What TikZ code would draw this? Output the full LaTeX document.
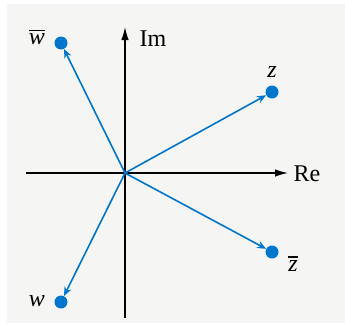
\documentclass[tikz,border=0pt]{standalone}
\usepackage{fontspec}
\setmainfont{Liberation Serif}
\usetikzlibrary{arrows.meta}
\definecolor{bg}{RGB}{245,245,244}
\definecolor{vec}{RGB}{0,118,204}
\newcommand\myconj[2]{\vbox{\hrule height #2\kern 2.5pt\hbox{\itshape #1\/}}}
\begin{document}
\begin{tikzpicture}[x=1pt,y=-1pt,
  dot/.style={circle,fill=vec,inner sep=0pt,minimum size=13pt},
  vecline/.style={draw=vec,line width=1.6pt,-{Stealth[length=9pt,width=7.5pt]}},
  axis/.style={draw=black,line width=1.3pt,-{Latex[length=13pt,width=7.5pt]}},
  lab/.style={font=\fontsize{24}{28}\selectfont,inner sep=0pt}]
\useasboundingbox (0,0) rectangle (345,324);
\fill[bg] (7,4) rectangle (345,323);
\coordinate (o) at (125,173);
\coordinate (xl) at (26,173);
\coordinate (xr) at (288,173);
\coordinate (yb) at (125,318);
\coordinate (yt) at (125,27);
\draw[axis] (xl) -- (xr);
\draw[axis] (yb) -- (yt);
\node[lab] (re) at (307,174) {Re};
\node[lab] (im) at (153,39) {Im};
\node[dot] (z) at (272,92) {};
\node[dot] (zb) at (272,252) {};
\node[dot] (wb) at (61,43) {};
\node[dot] (w) at (61,302) {};
\draw[vecline] (o) -- (z);
\draw[vecline] (o) -- (zb);
\draw[vecline] (o) -- (wb);
\draw[vecline] (o) -- (w);
\node[lab] (zl) at (272,72) {\itshape z};
\node[lab] (zbl) at (293,264) {\myconj{z}{2.2pt}};
\node[lab] (wbl) at (37,37) {\myconj{w}{1.2pt}};
\node[lab] (wl) at (37,301) {\itshape w};
\end{tikzpicture}
\end{document}
